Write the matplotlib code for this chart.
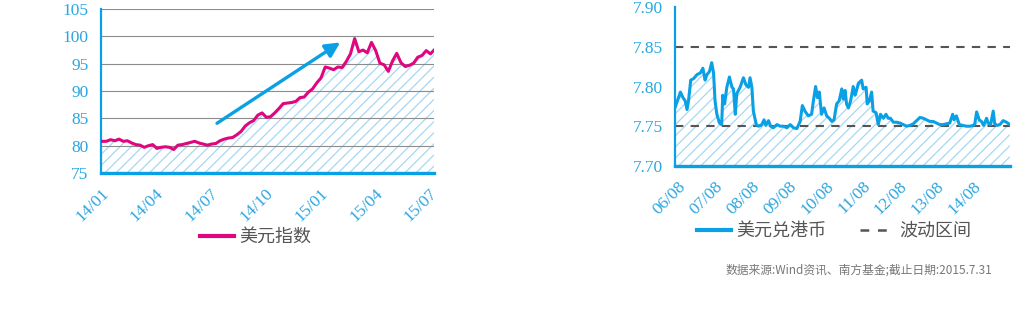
import numpy as np
import pandas as pd
import matplotlib
matplotlib.use('Agg')
import matplotlib.pyplot as plt
from matplotlib.lines import Line2D
from matplotlib.font_manager import FontProperties

# tick labels are in a Times-like serif, the Chinese text in a sans CJK face
plt.rcParams['font.family'] = ['Liberation Serif', 'DejaVu Serif']
plt.rcParams['font.size'] = 12.5
plt.rcParams['hatch.linewidth'] = 0.9

# ---------------- data: US dollar index (weekly, 2014/01 - 2015/07) ----------------
dxy = [80.8, 80.8, 81.1, 80.9, 81.2, 80.8, 80.9, 80.5, 80.2, 80.1,
       79.7, 80.0, 80.2, 79.5, 79.7, 79.8, 79.7, 79.3, 80.1, 80.2,
       80.4, 80.6, 80.8, 80.5, 80.3, 80.1, 80.3, 80.4, 80.9, 81.2,
       81.4, 81.5, 82.0, 82.6, 83.6, 84.2, 84.6, 85.6, 86.0, 85.2,
       85.3, 86.0, 86.8, 87.7, 87.8, 87.9, 88.1, 88.8, 88.9, 89.8,
       90.4, 91.5, 92.4, 94.4, 94.2, 93.9, 94.4, 94.3, 95.4, 96.8,
       99.6, 97.2, 97.5, 97.0, 98.9, 97.4, 95.1, 94.8, 93.6, 95.5,
       96.9, 95.2, 94.5, 94.7, 95.1, 96.2, 96.5, 97.4, 96.8, 97.6]
dxy_dates = pd.date_range('2014-01-03', periods=len(dxy), freq='W-FRI')
dxy_ticks = ['2014-01-01', '2014-04-01', '2014-07-01', '2014-10-01',
             '2015-01-01', '2015-04-01', '2015-07-01']
dxy_ticklabels = ['14/01', '14/04', '14/07', '14/10', '15/01', '15/04', '15/07']

# ---------------- data: USD/HKD (decimal year, rate) ----------------
hkd_t = [2006.50, 2006.56, 2006.64, 2006.71, 2006.77, 2006.82, 2006.86, 2006.92, 2007.00, 2007.09,
         2007.18, 2007.25, 2007.31, 2007.36, 2007.43, 2007.49, 2007.54, 2007.58, 2007.63, 2007.70,
         2007.76, 2007.79, 2007.84, 2007.90, 2007.97, 2008.04, 2008.08, 2008.13, 2008.17, 2008.26,
         2008.35, 2008.42, 2008.49, 2008.53, 2008.58, 2008.62, 2008.70, 2008.76, 2008.85, 2008.91,
         2008.96, 2009.03, 2009.09, 2009.16, 2009.26, 2009.35, 2009.44, 2009.53, 2009.62, 2009.71,
         2009.80, 2009.89, 2009.95, 2010.02, 2010.11, 2010.20, 2010.25, 2010.31, 2010.36, 2010.41,
         2010.47, 2010.54, 2010.61, 2010.68, 2010.75, 2010.81, 2010.88, 2010.95, 2011.02, 2011.06,
         2011.11, 2011.15, 2011.20, 2011.26, 2011.33, 2011.38, 2011.42, 2011.47, 2011.56, 2011.60,
         2011.68, 2011.71, 2011.77, 2011.83, 2011.87, 2011.95, 2012.01, 2012.07, 2012.15, 2012.22,
         2012.28, 2012.34, 2012.42, 2012.51, 2012.60, 2012.69, 2012.78, 2012.87, 2012.96, 2013.05,
         2013.14, 2013.23, 2013.32, 2013.41, 2013.50, 2013.59, 2013.68, 2013.77, 2013.86, 2013.95,
         2014.03, 2014.07, 2014.13, 2014.21, 2014.31, 2014.40, 2014.50, 2014.59, 2014.63, 2014.68,
         2014.75, 2014.81, 2014.87, 2014.95, 2014.99, 2015.06, 2015.13, 2015.17, 2015.24, 2015.31,
         2015.40, 2015.49, 2015.58]
hkd = [7.774, 7.782, 7.793, 7.786, 7.782, 7.771, 7.782, 7.808, 7.810, 7.815,
       7.817, 7.823, 7.808, 7.815, 7.819, 7.830, 7.817, 7.782, 7.765, 7.754,
       7.752, 7.789, 7.778, 7.799, 7.812, 7.799, 7.797, 7.765, 7.791, 7.799,
       7.811, 7.802, 7.799, 7.811, 7.799, 7.769, 7.752, 7.750, 7.752, 7.758,
       7.751, 7.757, 7.750, 7.748, 7.752, 7.750, 7.750, 7.748, 7.752, 7.748,
       7.747, 7.756, 7.776, 7.769, 7.763, 7.765, 7.782, 7.800, 7.786, 7.793,
       7.765, 7.773, 7.763, 7.760, 7.756, 7.758, 7.778, 7.782, 7.797, 7.784,
       7.795, 7.778, 7.773, 7.782, 7.800, 7.789, 7.795, 7.804, 7.808, 7.797,
       7.799, 7.778, 7.782, 7.793, 7.769, 7.767, 7.752, 7.765, 7.760, 7.765,
       7.760, 7.760, 7.755, 7.755, 7.754, 7.752, 7.750, 7.751, 7.753, 7.757,
       7.761, 7.760, 7.758, 7.756, 7.756, 7.754, 7.752, 7.752, 7.753, 7.754,
       7.765, 7.758, 7.763, 7.752, 7.751, 7.750, 7.750, 7.751, 7.753, 7.768,
       7.758, 7.756, 7.751, 7.760, 7.754, 7.752, 7.769, 7.753, 7.751, 7.752,
       7.757, 7.755, 7.752]
hkd_ticks = [2006.58 + i for i in range(9)]
hkd_ticklabels = ['06/08', '07/08', '08/08', '09/08', '10/08', '11/08', '12/08', '13/08', '14/08']
band = [7.75, 7.85]

MAGENTA = '#e0067f'
BLUE = '#0aa0e6'
TICKBLUE = '#2aa6e0'
HATCH = '#a6d8f2'
GRAY = '#555555'

cjk_leg = FontProperties(family=['Noto Sans CJK SC', 'DejaVu Sans'], size=13)
cjk_note = FontProperties(family=['Noto Sans CJK SC', 'DejaVu Sans'], size=8.5)

fig = plt.figure(figsize=(10.2, 3.24), dpi=100)


def style_axes(ax):
    for s in ['top', 'right']:
        ax.spines[s].set_visible(False)
    ax.spines['left'].set_color(BLUE)
    ax.spines['left'].set_linewidth(1.6)
    ax.spines['bottom'].set_color(BLUE)
    ax.spines['bottom'].set_linewidth(2.4)
    ax.tick_params(length=0, pad=9, labelcolor=TICKBLUE, labelsize=12.5)


# ---------------- left: dollar index ----------------
ax1 = fig.add_axes([0.099, 0.466, 0.3265, 0.506])
ax1.fill_between(dxy_dates, dxy, 75, facecolor='white', edgecolor=HATCH,
                 hatch='///', linewidth=0, zorder=1)
for v in [80, 85, 90, 95, 100, 105]:
    ax1.axhline(v, color='#8c8c8c', lw=0.8, zorder=1.5)
ax1.plot(dxy_dates, dxy, color=MAGENTA, lw=2.2, zorder=3, solid_joinstyle='round')
ax1.set_ylim(75, 105)
ax1.set_xlim(pd.Timestamp('2014-01-01'), pd.Timestamp('2015-07-09'))
ax1.set_yticks([75, 80, 85, 90, 95, 100, 105])
ax1.set_yticklabels([str(v) for v in [75, 80, 85, 90, 95, 100, 105]])
ax1.set_xticks(pd.to_datetime(dxy_ticks))
ax1.set_xticklabels(dxy_ticklabels, rotation=45, ha='right', rotation_mode='anchor')
style_axes(ax1)
ax1.annotate('', xy=(pd.Timestamp('2015-02-03'), 98.9),
             xytext=(pd.Timestamp('2014-07-13'), 84.1),
             arrowprops=dict(arrowstyle='-|>,head_length=0.7,head_width=0.35',
                             color=BLUE, lw=2.4, shrinkA=0, shrinkB=0),
             zorder=4)

leg1 = fig.legend(handles=[Line2D([], [], color=MAGENTA, lw=3)], labels=['美元指数'],
                  loc='center left', bbox_to_anchor=(200 / 1020, 1 - 237 / 324),
                  frameon=False, prop=cjk_leg, handlelength=1.9, handletextpad=0.25,
                  borderpad=0, borderaxespad=0)
for t in leg1.get_texts():
    t.set_color(GRAY)

# ---------------- right: USD/HKD ----------------
ax2 = fig.add_axes([0.662, 0.488, 0.328, 0.49])
ax2.fill_between(hkd_t, hkd, 7.70, facecolor='white', edgecolor=HATCH,
                 hatch='///', linewidth=0, zorder=1)
for b in band:
    ax2.axhline(b, color=GRAY, lw=1.5, dashes=(4, 3.5), zorder=2)
ax2.plot(hkd_t, hkd, color=BLUE, lw=2.2, zorder=3, solid_joinstyle='round')
ax2.set_ylim(7.70, 7.90)
ax2.set_xlim(2006.5, 2015.58)
ax2.set_yticks([7.70, 7.75, 7.80, 7.85, 7.90])
ax2.set_yticklabels(['7.70', '7.75', '7.80', '7.85', '7.90'])
ax2.set_xticks(hkd_ticks)
ax2.set_xticklabels(hkd_ticklabels, rotation=45, ha='right', rotation_mode='anchor')
style_axes(ax2)

leg2 = fig.legend(handles=[Line2D([], [], color=BLUE, lw=3),
                           Line2D([], [], color=GRAY, lw=1.8, dashes=(3.5, 3.5))],
                  labels=['美元兑港币', '波动区间'], ncol=2,
                  loc='center left', bbox_to_anchor=(697 / 1020, 1 - 231 / 324),
                  frameon=False, prop=cjk_leg, handlelength=1.9, handletextpad=0.25,
                  columnspacing=1.9, borderpad=0, borderaxespad=0)
for t in leg2.get_texts():
    t.set_color(GRAY)

fig.text(992 / 1020, 1 - 270 / 324, '数据来源:Wind资讯、南方基金;截止日期:2015.7.31',
         ha='right', va='center', fontproperties=cjk_note, color='#777777')

fig.savefig('out.png', dpi=100)
